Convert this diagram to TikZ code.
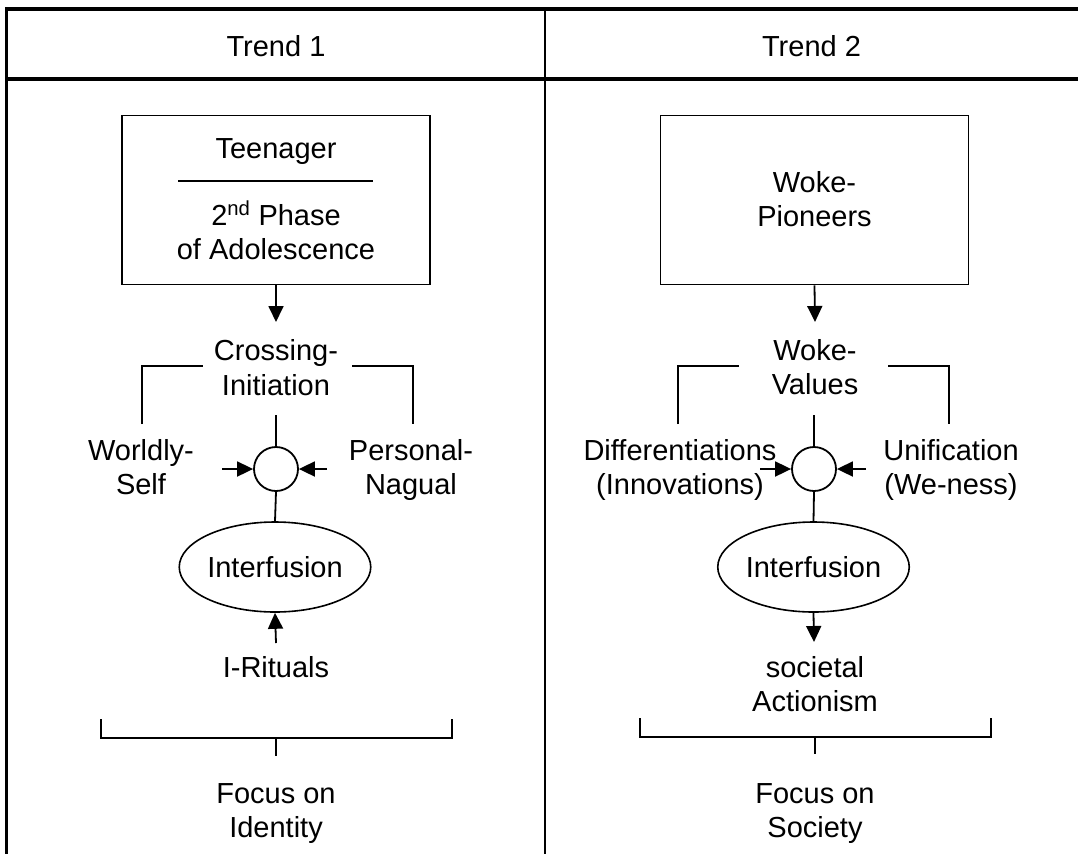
\documentclass[tikz,border=0pt]{standalone}
\usepackage{fontspec}
\setmainfont{Liberation Sans}
\usetikzlibrary{arrows.meta,shapes.geometric}
\begin{document}
\begin{tikzpicture}[x=1pt,y=-1pt,
  txt/.style={anchor=base, inner sep=0pt, font=\fontsize{29}{34}\selectfont},
  lnk/.style={line width=1.8pt},
  arr/.style={line width=1.8pt, -{Triangle[length=16pt,width=15pt]}},
  box/.style={draw, line width=1.8pt, minimum width=308pt, minimum height=169pt, inner sep=0pt},
  ring/.style={circle, draw, line width=1.8pt, minimum size=44pt, inner sep=0pt},
  oval/.style={ellipse, draw, line width=1.6pt, minimum width=166pt, minimum height=90pt, inner sep=0pt, font=\fontsize{29}{34}\selectfont},
  frame/.style={line width=4pt},
  divider/.style={line width=2pt}]
\useasboundingbox (0,0) rectangle (1078,854);
% table frame
\draw[frame] (5,9.3) -- (1078,9.3);
\draw[frame] (5,79) -- (1078,79);
\draw[line width=3.3pt] (6.7,7.3) -- (6.7,854);
\draw[divider] (545,7.3) -- (545,854);
\node[txt] (h1) at (276,56) {Trend 1};
\node[txt] (h2) at (811.5,56) {Trend 2};

% ---------- Trend 1 ----------
\node[box] (box1) at (276,200) {};
\node[txt] (t1a) at (276,158.3) {Teenager};
\coordinate (r1l) at (178,181);
\coordinate (r1r) at (373,181);
\draw[lnk] (r1l) -- (r1r);
\node[txt] (t1b) at (276,225) {2\textsuperscript{nd} Phase};
\node[txt] (t1c) at (276,259.3) {of Adolescence};
\coordinate (a1) at (276,322);
\draw[arr] (box1.south) -- (a1);
\node[txt] (cr1) at (276,360.7) {Crossing-};
\node[txt] (cr2) at (276,395) {Initiation};
\coordinate (bl1a) at (142,424);
\coordinate (bl1b) at (203,366);
\coordinate (br1a) at (352,366);
\coordinate (br1b) at (413,424);
\draw[lnk] (bl1a) |- (bl1b);
\draw[lnk] (br1a) -| (br1b);
\node[ring] (c1) at (276,469) {};
\coordinate (s1) at (276,415);
\draw[lnk] (s1) -- (c1.north);
\node[txt] (w1) at (141,460) {Worldly-};
\node[txt] (w2) at (141,494) {Self};
\node[txt] (p1) at (411,460) {Personal-};
\node[txt] (p2) at (411,494) {Nagual};
\coordinate (al1) at (222,469);
\coordinate (ar1) at (327,469);
\draw[arr] (al1) -- (c1.west);
\draw[arr] (ar1) -- (c1.east);
\node[oval] (e1) at (275,567) {Interfusion};
\draw[lnk] (c1.south) -- (e1.north);
\coordinate (ir) at (276,643);
\draw[arr] (ir) -- (e1.south);
\node[txt] (ri) at (276,677) {I-Rituals};
\coordinate (fb1) at (101,719);
\coordinate (fb2) at (101,738);
\coordinate (fb3) at (452,738);
\coordinate (fb4) at (452,719);
\draw[lnk] (fb1) -- (fb2) -- (fb3) -- (fb4);
\coordinate (fs1) at (276,738);
\coordinate (fs2) at (276,756);
\draw[lnk] (fs1) -- (fs2);
\node[txt] (f1a) at (276,803) {Focus on};
\node[txt] (f1b) at (276,837) {Identity};

% ---------- Trend 2 ----------
\node[box] (box2) at (814.5,200) {};
\node[txt] (wp1) at (814.5,192.7) {Woke-};
\node[txt] (wp2) at (814.5,226) {Pioneers};
\coordinate (a2) at (815,322);
\draw[arr] (box2.south) -- (a2);
\node[txt] (wv1) at (815,360.7) {Woke-};
\node[txt] (wv2) at (815,394.5) {Values};
\coordinate (bl2a) at (678,424);
\coordinate (bl2b) at (739,366);
\coordinate (br2a) at (888,366);
\coordinate (br2b) at (949,424);
\draw[lnk] (bl2a) |- (bl2b);
\draw[lnk] (br2a) -| (br2b);
\node[ring] (c2) at (814,469) {};
\coordinate (s2) at (814,415);
\draw[lnk] (s2) -- (c2.north);
\node[txt] (d1) at (680,460) {Differentiations};
\node[txt] (d2) at (680,494) {(Innovations)};
\node[txt] (u1) at (951,460) {Unification};
\node[txt] (u2) at (951,494) {(We-ness)};
\coordinate (al2) at (760,469);
\coordinate (ar2) at (866,469);
\draw[arr] (al2) -- (c2.west);
\draw[arr] (ar2) -- (c2.east);
\node[oval] (e2) at (813.5,567) {Interfusion};
\draw[lnk] (c2.south) -- (e2.north);
\coordinate (sa) at (814,642);
\draw[arr] (e2.south) -- (sa);
\node[txt] (sc1) at (815,677) {societal};
\node[txt] (sc2) at (815,711) {Actionism};
\coordinate (gb1) at (640,718);
\coordinate (gb2) at (640,737);
\coordinate (gb3) at (991,737);
\coordinate (gb4) at (991,718);
\draw[lnk] (gb1) -- (gb2) -- (gb3) -- (gb4);
\coordinate (gs1) at (815,737);
\coordinate (gs2) at (815,754);
\draw[lnk] (gs1) -- (gs2);
\node[txt] (f2a) at (815,803) {Focus on};
\node[txt] (f2b) at (815,837) {Society};
\end{tikzpicture}
\end{document}
